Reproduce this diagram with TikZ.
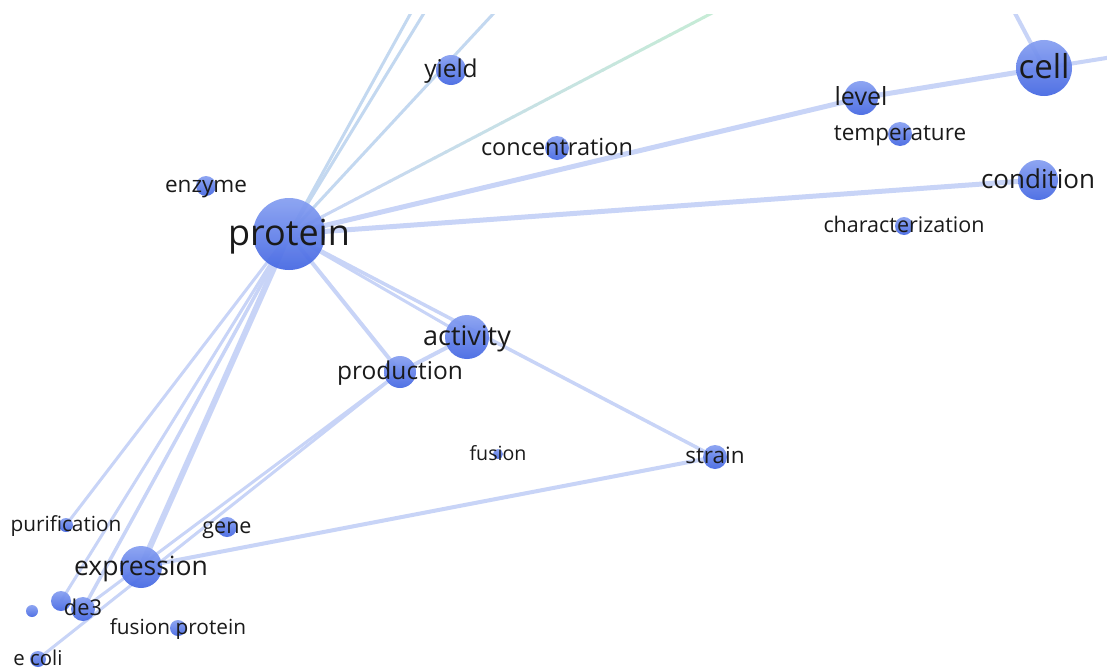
\documentclass[tikz,border=0pt]{standalone}
\usepackage{fontspec}
\setmainfont{Open Sans}
\usetikzlibrary{calc}

\pgfdeclarelayer{paper}
\pgfdeclarelayer{edges}
\pgfdeclarelayer{labels}
\pgfsetlayers{paper,edges,main,labels}

\definecolor{bubtop}{HTML}{869FF1}
\definecolor{bubbot}{HTML}{4467E3}
\definecolor{linkblue}{HTML}{C8D4F7}
\definecolor{linksky}{HTML}{C3D8F0}
\definecolor{linkgreen}{HTML}{C6EDD4}
\definecolor{txt}{HTML}{1A1A1A}

\tikzset{
  bubble/.style={circle, inner sep=0pt, minimum size=#1pt, draw=none,
    top color=bubtop, bottom color=bubbot, opacity=0.93},
  word/.style={font=\fontsize{#1}{#1}\selectfont, text=txt, inner sep=0pt, anchor=base},
  link/.style={draw=linkblue, line width=#1pt},
  skylink/.style={draw=linksky, line width=#1pt},
}

% \term{name}{x}{y}{diameter}{font size}{text}
\newcommand\term[6]{%
  \node[bubble=#4] (#1) at (#2,#3) {};
  \begin{pgfonlayer}{labels}
    \node[word=#5] (#1-label) at ($(#1)+(0,{0.31*#5})$) {#6};
  \end{pgfonlayer}%
}

\begin{document}
\begin{tikzpicture}[x=1pt, y=-1pt]
\begin{pgfonlayer}{paper}
  \fill[white] (0,0) rectangle (1107,669);
\end{pgfonlayer}
\useasboundingbox (0,0) rectangle (1107,669);

% terms
\term{protein}{289}{234}{72}{36}{protein}
\term{yield}{451}{70}{30}{24.5}{yield}
\term{concentration}{557}{148}{24}{23.5}{concentration}
\term{enzyme}{206}{186}{20}{22.5}{enzyme}
\term{level}{861}{98}{34}{25}{level}
\term{temperature}{900}{134}{24}{22.5}{temperature}
\term{cell}{1044}{68}{56}{33}{cell}
\term{condition}{1038}{180}{40}{26}{condition}
\term{characterization}{904}{226}{18}{21.5}{characterization}
\term{activity}{467}{337}{44}{27}{activity}
\term{production}{400}{372}{32}{24.5}{production}
\term{fusion}{498}{454}{10}{19.6}{fusion}
\term{strain}{715}{457}{24}{22.5}{strain}
\term{purification}{66}{525}{14}{20.8}{purification}
\term{gene}{227}{527}{20}{21.5}{gene}
\term{expression}{141}{567}{42}{26.5}{expression}
\node[bubble=20] (de3b) at (61,601) {};
\node[bubble=12] (dot) at (32,611) {};
\term{de3}{83}{609}{24}{21.8}{de3}
\term{fusionprotein}{178}{628}{16}{20.8}{fusion protein}
\term{ecoli}{38}{659}{16}{20.4}{e coli}

% free ends of links that leave the view
\coordinate (upA) at (418,0);
\coordinate (upB) at (432,0);
\coordinate (upC) at (506,0);
\coordinate (upG) at (737,0);
\coordinate (upCell) at (1008,0);
\coordinate (right) at (1125,55);

\begin{pgfonlayer}{edges}
\begin{scope}
  \clip (0,15) rectangle (1107,669);
  \draw[skylink=3] (protein.center) -- (upA);
  \draw[skylink=3] (protein.center) -- (upB);
  \draw[skylink=3] (protein.center) -- (upC);
  % link shading from blue into green
  \foreach \i in {0,...,39} {
    \pgfmathsetmacro\a{\i/40}
    \pgfmathsetmacro\b{(\i+1.05)/40}
    \pgfmathsetmacro\p{100*\i/39}
    \draw[draw=linkgreen!\p!linkblue, line width=3pt]
      ($(protein.center)!\a!(upG)$) -- ($(protein.center)!\b!(upG)$);
  }
  \draw[link=5] (protein.center) -- (level.center);
  \draw[link=5] (level.center) -- (cell.center);
  \draw[link=4] (cell.center) -- (right);
  \draw[link=4] (cell.center) -- (upCell);
  \draw[link=5] (protein.center) -- (condition.center);
  \draw[link=3] (protein.center) -- (activity.center);
  \draw[link=3.5] (protein.center) -- (strain.center);
  \draw[link=4] (protein.center) -- (production.center);
  \draw[link=4] (production.center) -- (activity.center);
  \draw[link=6] (protein.center) -- (expression.center);
  \draw[link=3] (protein.center) -- (purification.center);
  \draw[link=3] (protein.center) -- (de3b.center);
  \draw[link=3.5] (protein.center) -- (de3.center);
  \draw[link=3] (production.center) -- (de3.center);
  \draw[link=3] (production.center) -- (ecoli.center);
  \draw[link=4] (expression.center) -- (strain.center);
\end{scope}
\end{pgfonlayer}
\end{tikzpicture}
\end{document}
